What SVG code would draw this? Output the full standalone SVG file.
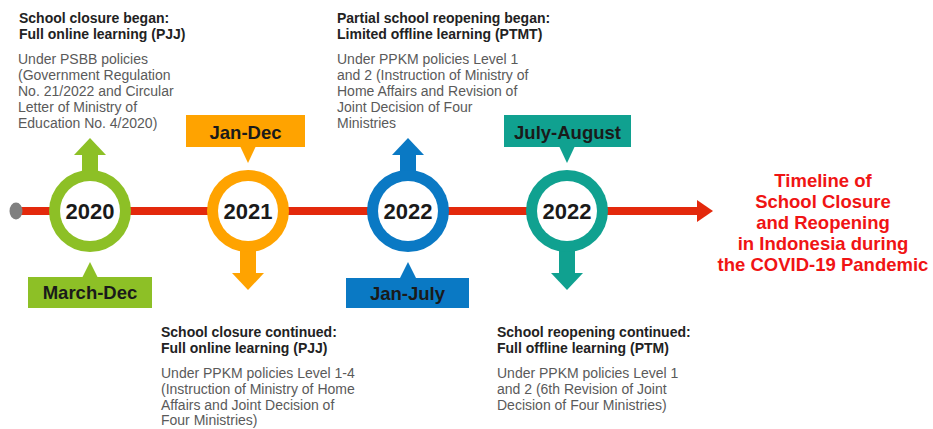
<svg xmlns="http://www.w3.org/2000/svg" width="933" height="429" viewBox="0 0 933 429">
<style>
text{font-family:"Liberation Sans",Arial,sans-serif}
.h{font-size:14px;font-weight:bold;fill:#222}
.b{font-size:14px;fill:#5a5a5a}
.yr{font-size:22px;font-weight:bold;fill:#1a1a1a;text-anchor:middle}
.lb{font-size:18.5px;font-weight:bold;fill:#1a1a1a;text-anchor:middle}
.t{font-size:18.5px;font-weight:bold;fill:#f01414;text-anchor:middle}
.in{fill:#fff}
</style>
<rect width="933" height="429" fill="#fff"/>
<g id="connectors">
<line x1="16" y1="211" x2="700" y2="211" stroke="#e3290c" stroke-width="8"/>
<polygon points="697,200 713,211 697,222" fill="#e3290c"/>
<ellipse cx="16" cy="211" rx="6.5" ry="8.5" fill="#808080"/>
</g>
<g id="node-2020" fill="#8dc026">
<rect x="82" y="152" width="16" height="24"/>
<polygon points="74,155 90,138 106,155"/>
<circle cx="90" cy="211" r="41"/>
<circle class="in" cx="90" cy="211" r="30"/>
<text class="yr" x="90" y="219">2020</text>
<polygon points="82,278 90,262 98,278"/>
<rect x="28" y="277" width="124" height="31"/>
<text class="lb" x="90" y="299">March-Dec</text>
</g>
<g id="node-2021" fill="#ffa300">
<rect x="186" y="115" width="119" height="32"/>
<polygon points="240,146 248,163 256,146"/>
<text class="lb" x="245.5" y="138.5">Jan-Dec</text>
<rect x="240" y="245" width="16" height="30"/>
<polygon points="232,273 264,273 248,290"/>
<circle cx="248" cy="211" r="41"/>
<circle class="in" cx="248" cy="211" r="30"/>
<text class="yr" x="248" y="219">2021</text>
</g>
<g id="node-2022a" fill="#0a79c4">
<rect x="400" y="152" width="16" height="24"/>
<polygon points="392,155 408,138 424,155"/>
<circle cx="408" cy="211" r="41"/>
<circle class="in" cx="408" cy="211" r="30"/>
<text class="yr" x="408" y="219">2022</text>
<polygon points="400,278 408,262 416,278"/>
<rect x="346" y="278" width="123" height="30"/>
<text class="lb" x="407.5" y="300">Jan-July</text>
</g>
<g id="node-2022b" fill="#10a190">
<rect x="504" y="115" width="127" height="32"/>
<polygon points="559,146 567,163 575,146"/>
<text class="lb" x="567.5" y="138.5">July-August</text>
<rect x="559" y="245" width="16" height="30"/>
<polygon points="551,273 583,273 567,290"/>
<circle cx="567" cy="211" r="41"/>
<circle class="in" cx="567" cy="211" r="30"/>
<text class="yr" x="567" y="219">2022</text>
</g>
<g id="text-2020">
<text class="h" x="19" y="23">School closure began:</text>
<text class="h" x="19" y="39">Full online learning (PJJ)</text>
<text class="b" x="18" y="64">Under PSBB policies</text>
<text class="b" x="18" y="80">(Government Regulation</text>
<text class="b" x="18" y="96">No. 21/2022 and Circular</text>
<text class="b" x="18" y="112">Letter of Ministry of</text>
<text class="b" x="18" y="128">Education No. 4/2020)</text>
</g>
<g id="text-2022a">
<text class="h" x="337" y="23">Partial school reopening began:</text>
<text class="h" x="337" y="39">Limited offline learning (PTMT)</text>
<text class="b" x="337" y="64">Under PPKM policies Level 1</text>
<text class="b" x="337" y="80">and 2 (Instruction of Ministry of</text>
<text class="b" x="337" y="96">Home Affairs and Revision of</text>
<text class="b" x="337" y="112">Joint Decision of Four</text>
<text class="b" x="337" y="128">Ministries</text>
</g>
<g id="text-2021">
<text class="h" x="161" y="337">School closure continued:</text>
<text class="h" x="161" y="353">Full online learning (PJJ)</text>
<text class="b" x="161" y="378">Under PPKM policies Level 1-4</text>
<text class="b" x="161" y="394">(Instruction of Ministry of Home</text>
<text class="b" x="161" y="410">Affairs and Joint Decision of</text>
<text class="b" x="161" y="425">Four Ministries)</text>
</g>
<g id="text-2022b">
<text class="h" x="497" y="337">School reopening continued:</text>
<text class="h" x="497" y="353">Full offline learning (PTM)</text>
<text class="b" x="497" y="378">Under PPKM policies Level 1</text>
<text class="b" x="497" y="394">and 2 (6th Revision of Joint</text>
<text class="b" x="497" y="410">Decision of Four Ministries)</text>
</g>
<g id="title">
<text class="t" x="823" y="187">Timeline of</text>
<text class="t" x="823" y="208">School Closure</text>
<text class="t" x="823" y="229">and Reopening</text>
<text class="t" x="823" y="250">in Indonesia during</text>
<text class="t" x="823" y="271">the COVID-19 Pandemic</text>
</g>
</svg>
